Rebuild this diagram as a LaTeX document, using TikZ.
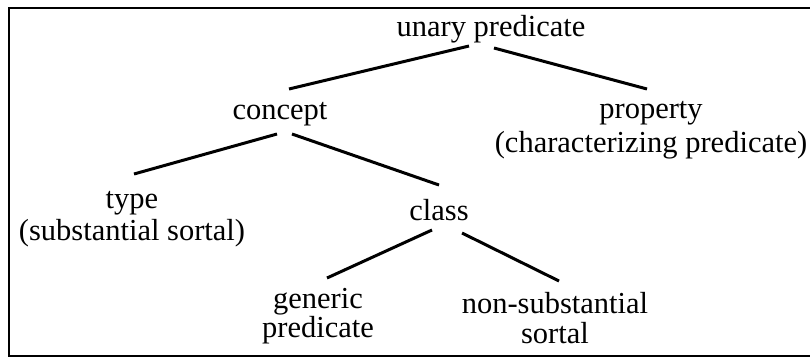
\documentclass[tikz,border=0pt]{standalone}
\usepackage{fontspec}
\setmainfont{Liberation Serif}
\begin{document}
\begin{tikzpicture}[x=1pt,y=-1pt,
  lbl/.style={anchor=base,inner sep=0pt,align=center,font=\fontsize{30.5}{30}\selectfont},
  edge/.style={line width=3pt}]
\useasboundingbox (0,0) rectangle (810,360);
\draw[line width=2.4pt] (9,8) rectangle (830,356);
\node[lbl] (u) at (491,36) {unary predicate};
\node[lbl] (c) at (280,119) {concept};
\node[lbl] (p) at (651,152) {property\\[4pt](characterizing predicate)};
\node[lbl] (t) at (132,240) {type\\[2pt](substantial sortal)};
\node[lbl] (cl) at (439,220) {class};
\node[lbl] (g) at (318,337) {generic\\[-1pt]predicate};
\node[lbl] (n) at (555,343) {non-substantial\\sortal};
\draw[edge] ([shift={(-22,10)}]u.base) -- ([shift={(9,-30)}]c.base);
\draw[edge] ([shift={(3,12)}]u.base) -- ([shift={(-4,-63)}]p.base);
\draw[edge] ([shift={(-3,15)}]c.base) -- ([shift={(2,-66)}]t.base);
\draw[edge] ([shift={(12,15)}]c.base) -- ([shift={(0,-35)}]cl.base);
\draw[edge] ([shift={(-7,10)}]cl.base) -- ([shift={(9,-59)}]g.base);
\draw[edge] ([shift={(23,13)}]cl.base) -- ([shift={(4,-62)}]n.base);
\end{tikzpicture}
\end{document}
